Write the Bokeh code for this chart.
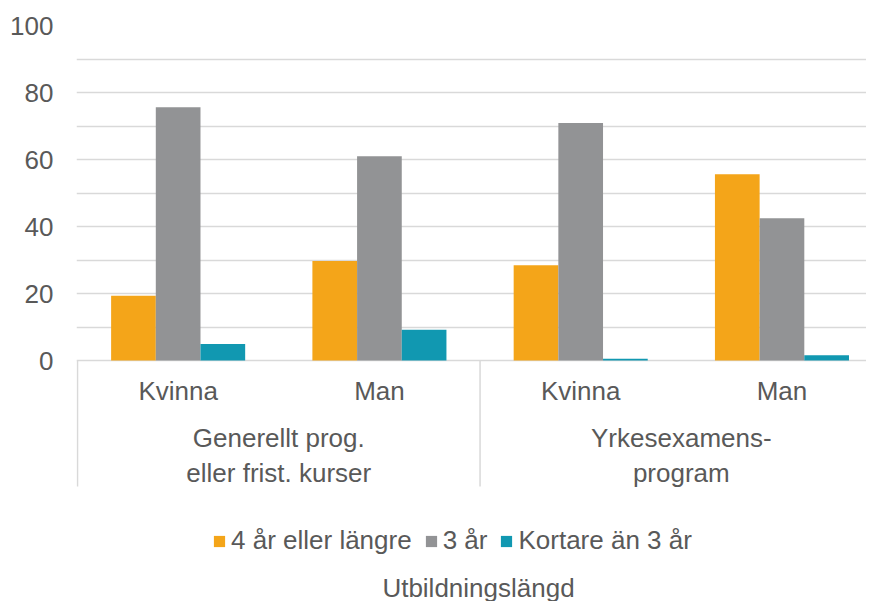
from bokeh.plotting import figure
from bokeh.models import ColumnDataSource, Range1d, FixedTicker, Label
from bokeh.transform import dodge
from bokeh.core.properties import value
from bokeh.embed import file_html
from bokeh.resources import INLINE

# ---- data ----
groups = ["Generellt prog.\neller frist. kurser", "Yrkesexamens-\nprogram"]
subgroups = ["Kvinna", "Man", "Kvinna", "Man"]
series_names = ["4 år eller längre", "3 år", "Kortare än 3 år"]
v_4ar = [19.3, 29.7, 28.4, 55.6]
v_3ar = [75.6, 61.0, 70.9, 42.5]
v_kort = [4.9, 9.2, 0.5, 1.6]
y_ticks = [0, 20, 40, 60, 80, 100]
grid_ticks = [0, 10, 20, 30, 40, 50, 60, 70, 80, 90, 100]
x_title = "Utbildningslängd"

colors = ["#F4A519", "#929395", "#1198B1"]
TXT = "#595959"
GRID = "#d9d9d9"
FONT = "Liberation Sans"
FS = "26px"

n = len(subgroups)
centers = [i + 0.5 for i in range(n)]
src = ColumnDataSource(dict(x=centers, a=v_4ar, b=v_3ar, c=v_kort))

px_per_unit = 3.35
frame_h = 576
y_start = 100 - frame_h / px_per_unit

p = figure(width=866, height=601, output_backend="svg", toolbar_location=None,
           x_range=Range1d(-0.005, 3.92), y_range=Range1d(y_start, 100),
           min_border_left=76, min_border_right=0, min_border_top=25,
           min_border_bottom=0)
p.outline_line_color = None
p.background_fill_color = "white"
p.border_fill_color = "white"

bw = 0.222
for key, off, col, name in zip(["a", "b", "c"], [-bw, 0, bw], colors, series_names):
    p.vbar(x=dodge("x", off, range=p.x_range), top=key, bottom=0, width=bw,
           source=src, fill_color=col, line_color=None, legend_label=name)

# axes
p.xaxis.visible = False
p.yaxis.ticker = FixedTicker(ticks=y_ticks)
p.yaxis.axis_line_color = None
p.yaxis.major_tick_line_color = None
p.yaxis.minor_tick_line_color = None
p.yaxis.major_tick_out = 0
p.yaxis.major_tick_in = 0
p.yaxis.major_label_standoff = 23
p.yaxis.major_label_text_font = FONT
p.yaxis.major_label_text_font_size = FS
p.yaxis.major_label_text_color = TXT

p.xgrid.visible = False
p.ygrid.ticker = FixedTicker(ticks=grid_ticks)
p.ygrid.grid_line_color = GRID
p.ygrid.grid_line_width = 1.3

# category labels below the baseline
lab_src = ColumnDataSource(dict(x=centers, y=[-9.2] * n, t=subgroups))
p.text(x="x", y="y", text="t", source=lab_src, text_align="center",
       text_baseline="middle", text_font=value(FONT), text_font_size=FS,
       text_color=TXT)

gcenters = [1.0, 3.0]
g_src = ColumnDataSource(dict(x=gcenters, y=[-28.4] * len(groups), t=groups))
p.text(x="x", y="y", text="t", source=g_src, text_align="center",
       text_baseline="middle", text_font=value(FONT), text_font_size=FS,
       text_color=TXT, text_line_height=1.15)

# separators between groups
sep_x = [0.0, 2.0]
p.segment(x0=sep_x, y0=[0, 0], x1=sep_x, y1=[-37.6, -37.6],
          line_color=GRID, line_width=1.5)

# legend
lg = p.legend[0]
lg.orientation = "horizontal"
lg.location = (136, 45)
lg.padding = 0
lg.margin = 0
lg.spacing = 12
lg.label_standoff = 5
lg.glyph_width = 14
lg.glyph_height = 14
lg.border_line_color = None
lg.background_fill_alpha = 0
lg.label_text_font = FONT
lg.label_text_font_size = FS
lg.label_text_color = TXT

p.add_layout(Label(x=402, y=-1, x_units="screen", y_units="screen", text=x_title,
                   text_align="center", text_baseline="bottom",
                   text_font=FONT, text_font_size=FS, text_color=TXT))

open("out.html", "w").write(file_html(p, INLINE))
